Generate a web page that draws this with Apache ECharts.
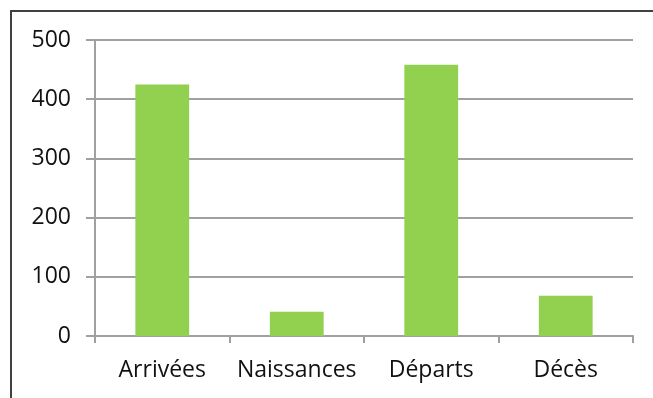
<!DOCTYPE html>
<html>
<head>
<meta charset="utf-8">
<script src="https://cdn.jsdelivr.net/npm/echarts@6/dist/echarts.min.js"></script>
<style>
html,body{margin:0;padding:0;background:#fff;}
#chart{width:653px;height:398px;}
</style>
</head>
<body>
<div id="chart"></div>
<script>
const categories = ['Arrivées', 'Naissances', 'Départs', 'Décès'];
const values = [425, 41, 458, 68];
const yTicks = [0, 100, 200, 300, 400, 500];

const chart = echarts.init(document.getElementById('chart'), null, {renderer: 'canvas'});
const font = '"Open Sans", "Noto Sans", sans-serif';
chart.setOption({
  animation: false,
  backgroundColor: '#fff',
  graphic: [{
    type: 'rect',
    shape: {x: 11, y: 11, width: 700, height: 500},
    style: {fill: 'none', stroke: '#404040', lineWidth: 2},
    silent: true
  }],
  grid: {left: 95, right: 20, top: 40, bottom: 62, containLabel: false},
  xAxis: {
    type: 'category',
    data: categories,
    axisLine: {show: true, lineStyle: {color: '#a0a0a0', width: 2}},
    axisTick: {show: true, length: 7, alignWithLabel: false, lineStyle: {color: '#a0a0a0', width: 2}},
    axisLabel: {color: '#111', fontSize: 23, fontFamily: font, margin: 23, interval: 0, hideOverlap: false}
  },
  yAxis: {
    type: 'value',
    min: yTicks[0],
    max: yTicks[yTicks.length - 1],
    interval: 100,
    axisLine: {show: true, lineStyle: {color: '#a0a0a0', width: 2}},
    axisTick: {show: true, length: 9, lineStyle: {color: '#a0a0a0', width: 2}},
    splitLine: {show: true, lineStyle: {color: '#a0a0a0', width: 2}},
    axisLabel: {color: '#111', fontSize: 23, fontFamily: font, margin: 24}
  },
  series: [{
    type: 'bar',
    data: values,
    barWidth: '40%',
    itemStyle: {color: '#92D050'}
  }]
});
</script>
</body>
</html>
